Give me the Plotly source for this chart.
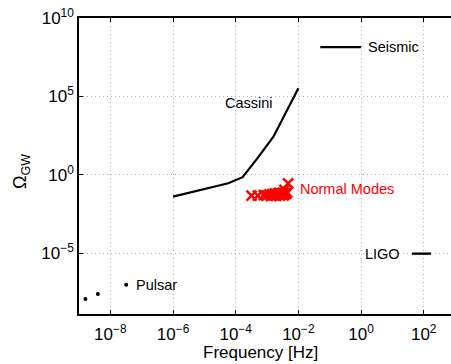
import math
import plotly.graph_objects as go

# ---- data ----
cassini_f = [1e-6, 5.8e-5, 1.66e-4, 4.7e-4, 1.6e-3, 1e-2]
cassini_omega = [0.041, 0.29, 0.71, 10, 270, 3.3e5]

seismic_f = [0.05, 1.0]
seismic_omega = [1.4e8, 1.4e8]

ligo_f = [42, 170]
ligo_omega = [9.5e-6, 9.5e-6]

pulsar_f = [1.6e-9, 4e-9, 3.2e-8]
pulsar_omega = [1.2e-8, 2.5e-8, 1e-7]

modes_f = [3.2e-4, 5.1e-4, 7.9e-4, 1.0e-3, 1.2e-3, 1.35e-3, 1.5e-3, 1.65e-3,
           1.8e-3, 1.95e-3, 2.1e-3, 2.3e-3, 2.45e-3, 2.6e-3, 2.8e-3, 3.0e-3,
           3.2e-3, 3.4e-3, 3.7e-3, 4.0e-3, 4.4e-3, 3.6e-3, 4.7e-3]
modes_omega = [0.047, 0.047, 0.052, 0.05, 0.058, 0.044, 0.06, 0.05,
               0.065, 0.045, 0.062, 0.055, 0.07, 0.048, 0.066, 0.058,
               0.072, 0.05, 0.065, 0.06, 0.075, 0.11, 0.29]

x_tickvals = [1e-8, 1e-6, 1e-4, 1e-2, 1e0, 1e2]
x_ticktext = ["10<sup>\u22128</sup>", "10<sup>\u22126</sup>", "10<sup>\u22124</sup>",
              "10<sup>\u22122</sup>", "10<sup>0</sup>", "10<sup>2</sup>"]
y_tickvals = [1e-5, 1e0, 1e5, 1e10]
y_ticktext = ["10<sup>\u22125</sup>", "10<sup>0</sup>", "10<sup>5</sup>", "10<sup>10</sup>"]

FONT = "Liberation Sans"

fig = go.Figure()
fig.add_trace(go.Scatter(x=cassini_f, y=cassini_omega, mode="lines",
                         line=dict(color="black", width=2.2), showlegend=False))
fig.add_trace(go.Scatter(x=seismic_f, y=seismic_omega, mode="lines",
                         line=dict(color="black", width=2.4), showlegend=False))
fig.add_trace(go.Scatter(x=ligo_f, y=ligo_omega, mode="lines",
                         line=dict(color="black", width=2.4), showlegend=False))
fig.add_trace(go.Scatter(x=pulsar_f, y=pulsar_omega, mode="markers",
                         marker=dict(color="black", size=4), showlegend=False))
fig.add_trace(go.Scatter(x=modes_f, y=modes_omega, mode="markers",
                         marker=dict(color="red", size=10, symbol="x-thin",
                                     line=dict(width=2.5, color="red")), showlegend=False))

def label(x, y, text, color="black", xanchor="left"):
    fig.add_annotation(x=x, y=y, xref="x", yref="y", text=text, showarrow=False,
                       xanchor=xanchor, yanchor="middle",
                       font=dict(family=FONT, size=14.5, color=color))

label(math.log10(2.7e-4), 4.58, "Cassini", xanchor="center")
label(math.log10(1.4e0), math.log10(1.4e8), "Seismic")
label(math.log10(2.0e1), math.log10(9.5e-6), "LIGO", xanchor="right")
label(math.log10(5.5e-8), -7.0, "Pulsar")
label(math.log10(1.0e-2), -0.92, "Normal Modes", color="red")

fig.add_annotation(xref="paper", yref="paper", x=(260.5 - 79) / 372, y=-(352 - 314) / 296,
                   text="Frequency [Hz]", showarrow=False, xanchor="center", yanchor="middle",
                   font=dict(family=FONT, size=17, color="black"))
fig.add_annotation(xref="paper", yref="paper", x=(21 - 79) / 372, y=(314 - 172) / 296,
                   text="\u03a9<sub>GW</sub>", showarrow=False, textangle=-90,
                   xanchor="center", yanchor="middle",
                   font=dict(family=FONT, size=18, color="black"))

axis_common = dict(showline=True, linecolor="black", linewidth=1.5,
                   ticks="inside", ticklen=4, tickcolor="black",
                   showgrid=True, gridcolor="#b0b0b0", griddash="1px,3px", gridwidth=1,
                   zeroline=False, tickfont=dict(family=FONT, size=17, color="black"))
fig.update_xaxes(type="log", range=[-9, 2.87], tickvals=x_tickvals, ticktext=x_ticktext,
                 mirror="ticks", ticklabelstandoff=4, **axis_common)
fig.update_yaxes(type="log", range=[-8.87, 10], tickvals=y_tickvals, ticktext=y_ticktext,
                 mirror=False, **axis_common)

fig.update_layout(width=451, height=364, margin=dict(l=79, r=0, t=18, b=50),
                  plot_bgcolor="white", paper_bgcolor="white", showlegend=False)

fig.write_html("out.html")
